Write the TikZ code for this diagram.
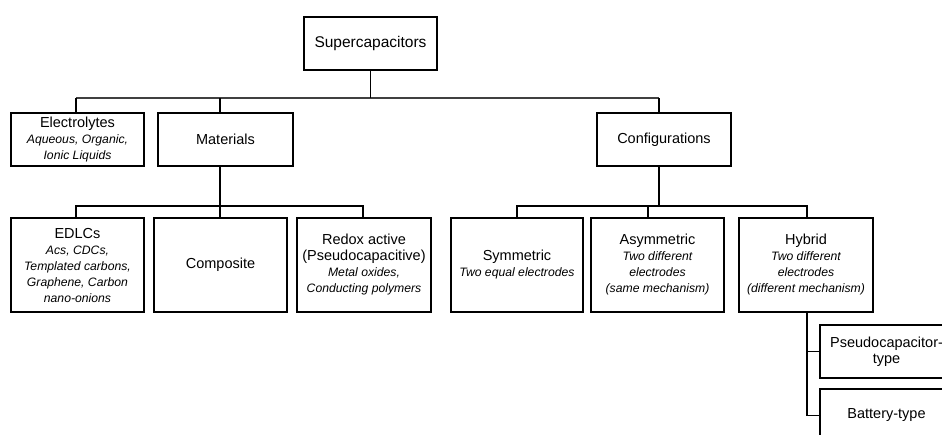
\documentclass[tikz,border=0pt]{standalone}
\usepackage{fontspec}
\setmainfont{Liberation Sans}
\newcommand\mtxt{\fontsize{14.5}{17.5}\selectfont\upshape}
\newcommand\itxt{\fontsize{12.2}{16}\selectfont\itshape}
\begin{document}
\begin{tikzpicture}[x=1pt,y=-1pt,
  box/.style={draw=black,line width=1.5pt,fill=white,minimum width=133pt,
    inner sep=2pt,align=center,font=\fontsize{12.2}{16}\selectfont},
  row1/.style={box,minimum height=53pt},
  row2/.style={box,minimum height=94pt},
  conn/.style={line width=1.5pt,black},
  topline/.style={line width=1.2pt,black!75}]
\useasboundingbox (0,0) rectangle (942,434);
\clip (0,0) rectangle (942,434);
% nodes
\node[row1] (sup) at (370.5,43.5) {\fontsize{15.5}{18}\selectfont Supercapacitors};
\node[row1] (elec) at (77.5,139.5) {{\mtxt Electrolytes}\\{\itxt Aqueous, Organic,}\\{\itxt Ionic Liquids}};
\node[row1,minimum width=135pt] (mat) at (225.5,139.5) {\mtxt Materials};
\node[row1,minimum width=134pt] (conf) at (664,139.5) {\mtxt Configurations};
\node[row2] (edlc) at (77.5,265) {{\mtxt EDLCs}\\{\itxt Acs, CDCs,}\\{\itxt Templated carbons,}\\{\itxt Graphene, Carbon}\\{\itxt nano-onions}};
\node[row2] (comp) at (220.5,265) {\mtxt Composite};
\node[row2,minimum width=134pt] (redox) at (364,265) {{\mtxt Redox active}\\{\mtxt (Pseudocapacitive)}\\{\itxt Metal oxides,}\\{\itxt Conducting polymers}};
\node[row2,minimum width=132pt] (sym) at (517,265) {{\mtxt Symmetric}\\{\itxt Two equal electrodes}};
\node[row2] (asym) at (657.5,265) {{\mtxt Asymmetric}\\{\itxt Two different}\\{\itxt electrodes}\\{\itxt (same mechanism)}};
\node[row2,minimum width=134pt] (hyb) at (806,265) {{\mtxt Hybrid}\\{\itxt Two different}\\{\itxt electrodes}\\{\itxt (different mechanism)}};
\node[row1] (pseudo) at (886.5,351.5) {{\mtxt Pseudocapacitor-}\\{\mtxt type}};
\node[row1] (batt) at (886.5,415.5) {\mtxt Battery-type};
% junctions
\coordinate (jE) at (76,98);
\coordinate (jM) at (220,98);
\coordinate (jC) at (659,98);
\coordinate (mL) at (76,206);
\coordinate (mR) at (363,206);
\coordinate (cL) at (517,206);
\coordinate (cM) at (648,206);
\coordinate (cR) at (807,206);
% connectors
\draw[topline] (jE) -- (jC);
\draw[conn] (sup.south) -- (sup.south |- jE);
\draw[conn] (jE) -- (jE |- elec.north);
\draw[conn] (jM) -- (jM |- mat.north);
\draw[conn] (jC) -- (jC |- conf.north);
\draw[conn] (jM |- mat.south) -- (jM |- comp.north);
\draw[conn] (mL |- edlc.north) -- (mL) -- (mR) -- (mR |- redox.north);
\draw[conn] (jC |- conf.south) -- (jC |- cL);
\draw[conn] (cL |- sym.north) -- (cL) -- (cR) -- (cR |- hyb.north);
\draw[conn] (cM) -- (cM |- asym.north);
\draw[conn] (cR |- hyb.south) -- (cR |- batt.west) -- (batt.west);
\draw[conn] (cR |- pseudo.west) -- (pseudo.west);
\end{tikzpicture}
\end{document}
